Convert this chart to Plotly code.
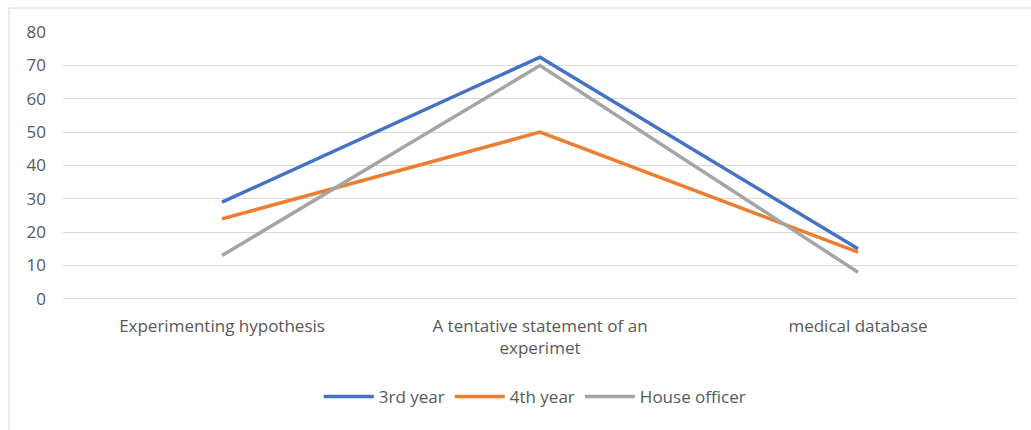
import plotly.graph_objects as go

categories = ["Experimenting hypothesis", "A tentative statement of an<br>experimet", "medical database"]
third_year = [29, 72.5, 15]
fourth_year = [24, 50, 14]
house_officer = [13, 70, 8]

series = [
    ("3rd year", third_year, "#4472C4"),
    ("4th year", fourth_year, "#ED7D31"),
    ("House officer", house_officer, "#A5A5A5"),
]

fig = go.Figure()
for name, vals, color in series:
    fig.add_trace(go.Scatter(
        x=list(range(len(categories))), y=vals, name=name, mode="lines",
        line=dict(color=color, width=3.5),
    ))

fig.update_layout(
    width=1031, height=430,
    margin=dict(l=63, r=14, t=32, b=131),
    paper_bgcolor="white", plot_bgcolor="white",
    font=dict(family="Open Sans, sans-serif", size=17, color="#595959"),
    showlegend=True,
    legend=dict(orientation="h", x=0.495, xanchor="center", y=-0.367, yanchor="middle",
                font=dict(size=17, color="#595959"), itemwidth=50, traceorder="normal"),
    shapes=[dict(type="rect", xref="paper", yref="paper",
                 x0=-54/954, x1=1.2, y0=-1.0, y1=1 + 24/267,
                 line=dict(color="#D9D9D9", width=1), fillcolor="rgba(0,0,0,0)", layer="below")],
)
fig.update_xaxes(
    tickmode="array", tickvals=list(range(len(categories))), ticktext=categories,
    range=[-0.5, 2.5], showgrid=False, zeroline=False, showline=False, ticks="",
    ticklabelstandoff=15,
    tickfont=dict(size=17, color="#595959"),
)
fig.update_yaxes(
    range=[-0.05, 80.05], tickvals=[0, 10, 20, 30, 40, 50, 60, 70, 80],
    showgrid=True, gridcolor="#D9D9D9", gridwidth=1,
    zeroline=True, zerolinecolor="#D9D9D9", zerolinewidth=1,
    showline=False, ticks="", ticklabelstandoff=16,
    tickfont=dict(size=17, color="#595959"),
)

fig.write_html("out.html")
